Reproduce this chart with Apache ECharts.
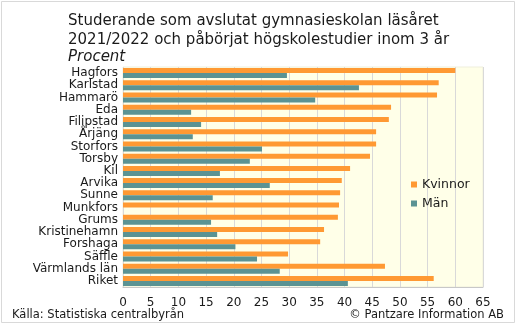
<!DOCTYPE html>
<html><head><meta charset="utf-8">
<script src="https://cdn.jsdelivr.net/npm/echarts@6/dist/echarts.min.js"></script>
<style>html,body{margin:0;padding:0;background:#fff}#c{width:517px;height:325px}</style>
</head><body><div id="c"></div>
<script>
const categories = ["Hagfors","Karlstad","Hammarö","Eda","Filipstad","Årjäng","Storfors","Torsby","Kil","Arvika","Sunne","Munkfors","Grums","Kristinehamn","Forshaga","Säffle","Värmlands län","Riket"];
const kvinnor = [60.0,57.0,56.7,48.4,48.0,45.7,45.7,44.6,41.0,39.5,39.2,39.0,38.8,36.3,35.6,29.8,47.3,56.1];
const man = [29.6,42.6,34.7,12.3,14.1,12.6,25.1,22.9,17.5,26.5,16.2,null,15.9,17.0,20.3,24.2,28.3,40.6];
const xTicks = [0,5,10,15,20,25,30,35,40,45,50,55,60,65];

const font = 'DejaVu Sans, Verdana, sans-serif';
const chart = echarts.init(document.getElementById('c'), null, {renderer:'canvas'});
chart.setOption({
  animation:false,
  backgroundColor:'#fff',
  textStyle:{fontFamily:font},
  graphic:[
    {type:'rect', shape:{x:1.5,y:1.5,width:513,height:321}, style:{fill:'none', stroke:'#d9d9d9', lineWidth:1}, silent:true},
    {type:'text', left:68, top:12, style:{text:'Studerande som avslutat gymnasieskolan läsåret\n2021/2022 och påbörjat högskolestudier inom 3 år', font:'15px '+font, fill:'#1a1a1a', lineHeight:19}},
    {type:'text', left:68, top:50, style:{text:'Procent', font:'italic 15px '+font, fill:'#1a1a1a'}},
    {type:'text', left:12, top:309, style:{text:'Källa: Statistiska centralbyrån', font:'11.5px '+font, fill:'#1a1a1a'}},
    {type:'text', right:13, top:309, style:{text:'© Pantzare Information AB', font:'11.5px '+font, fill:'#1a1a1a'}}
  ],
  legend:{
    data:['Kvinnor','Män'], orient:'vertical', left:406, top:173, itemWidth:6, itemHeight:6, itemGap:6,
    icon:'rect', textStyle:{fontSize:12.5, color:'#1a1a1a', fontFamily:font}
  },
  grid:{left:123, right:34, top:67, bottom:38, show:true, backgroundColor:'#FFFFE8', borderColor:'#efefdc', borderWidth:1},
  xAxis:{type:'value', min:0, max:65, interval:5,
    axisLine:{show:true, lineStyle:{color:'#c8c8c8'}}, axisTick:{show:false},
    splitLine:{show:true, lineStyle:{color:'#d9d9d9'}},
    axisLabel:{fontSize:12, color:'#1a1a1a', margin:10, fontFamily:font,
      formatter:v=> xTicks.includes(v)? String(v):''}},
  yAxis:{type:'category', data:categories, inverse:true,
    axisLine:{show:false}, axisTick:{show:false},
    axisLabel:{fontSize:12, color:'#1a1a1a', margin:5, interval:0, fontFamily:font}},
  series:[
    {name:'Kvinnor', type:'bar', data:kvinnor, barWidth:5, barGap:'0%', itemStyle:{color:'#FF9933'}},
    {name:'Män', type:'bar', data:man, barWidth:5, barGap:'0%', itemStyle:{color:'#5B9393'}}
  ]
});
</script></body></html>
